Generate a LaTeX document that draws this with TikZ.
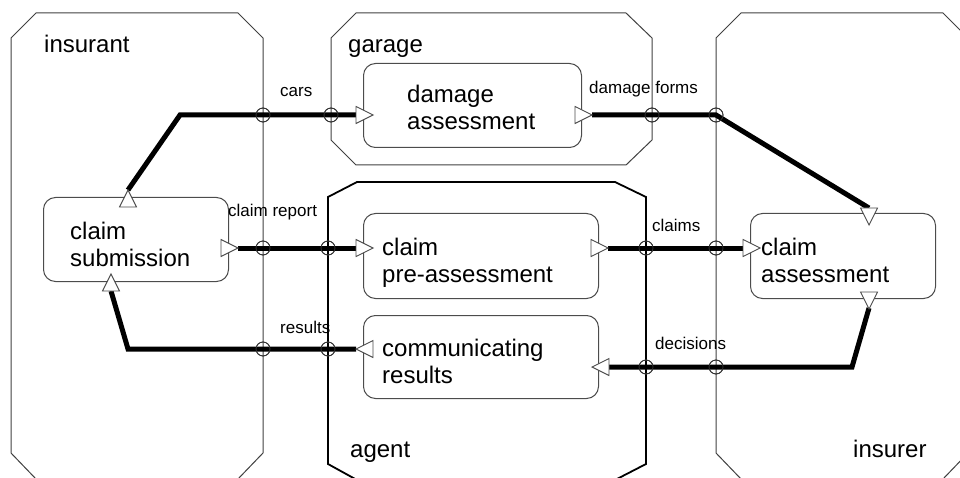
\documentclass[tikz,border=0pt]{standalone}
\usepackage{fontspec}
\setmainfont{Liberation Sans}
\begin{document}
\begin{tikzpicture}[x=1pt,y=-1pt,
  region/.style={draw=black!75, line width=1pt},
  agentregion/.style={draw=black, line width=1.8pt},
  proc/.style={draw=black!70, line width=1pt, rounded corners=12pt, inner sep=0pt, anchor=north west},
  flow/.style={line width=5pt, black},
  port/.style={circle, draw=black!80, line width=0.8pt, minimum size=14pt, inner sep=0pt},
  tri/.style={draw=black!70, fill=white, line width=0.9pt, line join=miter},
  big/.style={font=\fontsize{24}{27}\selectfont, inner sep=0pt, align=left, anchor=base west},
  small/.style={font=\fontsize{17}{20}\selectfont, inner sep=0pt, anchor=base west},
]
\useasboundingbox (0,0) rectangle (960,478);

% regions
\draw[region] (11,38) -- (36,13) -- (238,13) -- (263,38) -- (263,453) -- (238,479) -- (36,479) -- (11,453) -- cycle;
\draw[region] (331,38) -- (356,13) -- (626,13) -- (652,38) -- (652,140) -- (626,165) -- (356,165) -- (331,140) -- cycle;
\draw[agentregion] (328,197) -- (357,182) -- (615,182) -- (646,197) -- (646,464) -- (615,480) -- (357,480) -- (328,464) -- cycle;
\draw[region] (716,38) -- (741,13) -- (943,13) -- (968,38) -- (968,453) -- (943,479) -- (741,479) -- (716,453) -- cycle;

\node[big] (linsurant) at (44,53) {insurant};
\node[big] (lgarage) at (348,53) {garage};
\node[big] (lagent) at (350,457) {agent};
\node[big] (linsurer) at (853,457) {insurer};

% processes
\node[proc, minimum width=185pt, minimum height=84pt] (sub) at (43,197) {};
\node[proc, minimum width=218pt, minimum height=84pt] (dam) at (363,63) {};
\node[proc, minimum width=235pt, minimum height=85pt] (pre) at (363,213) {};
\node[proc, minimum width=235pt, minimum height=83pt] (com) at (363,315) {};
\node[proc, minimum width=185pt, minimum height=85pt] (ass) at (750,213) {};

\node[big] (tsub) at (70,266) {claim\\submission};
\node[big] (tdam) at (407,130) {damage\\assessment};
\node[big] (tpre) at (382,282) {claim\\pre-assessment};
\node[big] (tcom) at (382,383) {communicating\\results};
\node[big] (tass) at (761,282) {claim\\assessment};

% attach points
\coordinate (t1) at (128,190);
\coordinate (t2) at (356,115);
\coordinate (t3) at (592,115);
\coordinate (t4) at (869,208);
\coordinate (t5) at (238,248);
\coordinate (t6) at (356,248);
\coordinate (t7) at (608,248);
\coordinate (t8) at (743,248);
\coordinate (t9) at (869,308);
\coordinate (t10) at (608,367);
\coordinate (t11) at (356,349);
\coordinate (t12) at (111,291);
\coordinate (b1) at (180,115);
\coordinate (b3) at (852,367);
\coordinate (b4) at (128,349);

% ports
\node[port] (p1) at (263,115) {};
\node[port] (p2) at (331,115) {};
\node[port] (p3) at (652,115) {};
\node[port] (p4) at (716,115) {};
\node[port] (p5) at (263,248) {};
\node[port] (p6) at (328,248) {};
\node[port] (p7) at (646,248) {};
\node[port] (p8) at (716,248) {};
\node[port] (p9) at (716,367) {};
\node[port] (p10) at (646,367) {};
\node[port] (p11) at (328,349) {};
\node[port] (p12) at (263,349) {};

% flows
\draw[flow] (t1) -- (b1) -- (p1.center) -- (p2.center) -- (t2);
\draw[flow] (t3) -- (p3.center) -- (p4.center) -- (t4);
\draw[flow] (t5) -- (p5.center) -- (p6.center) -- (t6);
\draw[flow] (t7) -- (p7.center) -- (p8.center) -- (t8);
\draw[flow] (t9) -- (b3) -- (p9.center) -- (p10.center) -- (t10);
\draw[flow] (t11) -- (p11.center) -- (p12.center) -- (b4) -- (t12);

% triangles
\draw[tri] (119.5,207) -- (136.5,207) -- (128,190) -- cycle;
\draw[tri] (356,106.5) -- (356,123.5) -- (373,115) -- cycle;
\draw[tri] (575,106.5) -- (575,123.5) -- (592,115) -- cycle;
\draw[tri] (860.5,208) -- (877.5,208) -- (869,225) -- cycle;
\draw[tri] (221,239.5) -- (221,256.5) -- (238,248) -- cycle;
\draw[tri] (356,239.5) -- (356,256.5) -- (373,248) -- cycle;
\draw[tri] (591,239.5) -- (591,256.5) -- (608,248) -- cycle;
\draw[tri] (743,239.5) -- (743,256.5) -- (760,248) -- cycle;
\draw[tri] (860.5,292) -- (877.5,292) -- (869,309) -- cycle;
\draw[tri] (609,358.5) -- (609,375.5) -- (592,367) -- cycle;
\draw[tri] (373,340.5) -- (373,357.5) -- (356,349) -- cycle;
\draw[tri] (102.5,291) -- (119.5,291) -- (111,274) -- cycle;

% port circles on top
\foreach \p in {p1,p2,p3,p4,p5,p6,p7,p8,p9,p10,p11,p12}
  \draw[draw=black!80, line width=0.8pt] (\p) circle (7pt);

% flow labels
\node[small] (lcars) at (280,97) {cars};
\node[small] (ldam) at (589,94) {damage forms};
\node[small] (lrep) at (228,217) {claim report};
\node[small] (lclaims) at (652,232) {claims};
\node[small] (lres) at (280,333) {results};
\node[small] (ldec) at (655,349) {decisions};
\end{tikzpicture}
\end{document}
